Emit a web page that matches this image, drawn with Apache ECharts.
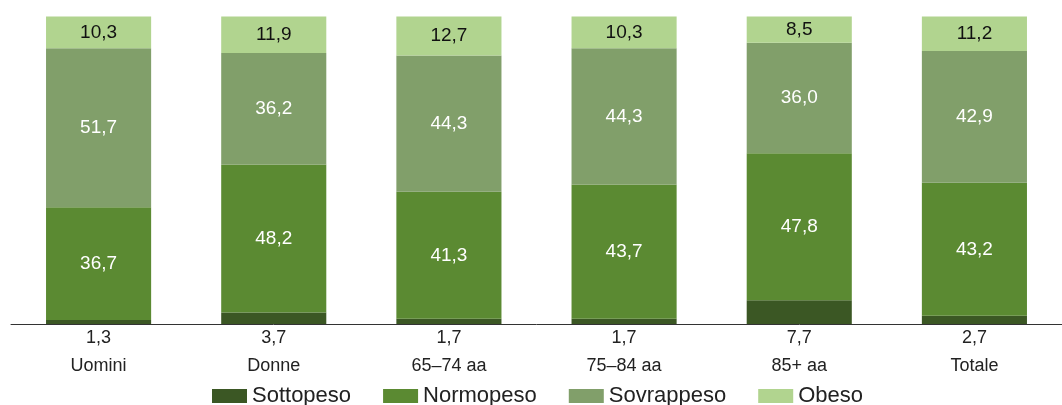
<!DOCTYPE html>
<html>
<head>
<meta charset="utf-8">
<script src="https://cdn.jsdelivr.net/npm/echarts@6/dist/echarts.min.js"></script>
<style>
html,body{margin:0;padding:0;background:#fff;}
#chart{width:1062px;height:405px;}
</style>
</head>
<body>
<div id="chart"></div>
<script>
var categories = ['Uomini', 'Donne', '65\u201374 aa', '75\u201384 aa', '85+ aa', 'Totale'];
var sottopeso = [1.3, 3.7, 1.7, 1.7, 7.7, 2.7];
var normopeso = [36.7, 48.2, 41.3, 43.7, 47.8, 43.2];
var sovrappeso = [51.7, 36.2, 44.3, 44.3, 36.0, 42.9];
var obeso = [10.3, 11.9, 12.7, 10.3, 8.5, 11.2];
var seriesNames = ['Sottopeso', 'Normopeso', 'Sovrappeso', 'Obeso'];

function fmt(v) { return v.toFixed(1).replace('.', ','); }

var colors = ['#3b5724', '#5b8a32', '#819f6a', '#b1d48f'];
var FONT = 'Liberation Sans, Arial, sans-serif';

function mkSeries(name, data, color, labelColor) {
  return {
    name: name,
    type: 'bar',
    stack: 'total',
    barWidth: '60%',
    data: data,
    itemStyle: { color: color },
    label: labelColor ? {
      show: true,
      position: 'inside',
      color: labelColor,
      fontFamily: FONT,
      fontSize: 19,
      formatter: function (p) { return fmt(p.value); }
    } : { show: false },
    emphasis: { disabled: true }
  };
}

var chart = echarts.init(document.getElementById('chart'));
chart.setOption({
  animation: false,
  color: colors,
  grid: { left: 11, width: 1055, top: 16.5, bottom: 81, containLabel: false },
  legend: {
    left: 207,
    top: 380,
    itemWidth: 35,
    itemHeight: 14,
    itemGap: 32,
    icon: 'rect',
    textStyle: { fontFamily: FONT, fontSize: 22, color: '#222', padding: [0, 0, 0, 0] },
    data: seriesNames
  },
  xAxis: {
    type: 'category',
    data: categories,
    axisLine: { show: true, lineStyle: { color: '#333', width: 1 } },
    axisTick: { show: false },
    axisLabel: {
      margin: 0,
      interval: 0,
      fontFamily: FONT,
      fontSize: 18,
      lineHeight: 28,
      color: '#222',
      formatter: function (v, i) { return fmt(sottopeso[i]) + '\n' + v; }
    }
  },
  yAxis: {
    type: 'value',
    min: 0,
    max: 100,
    show: false
  },
  series: [
    mkSeries(seriesNames[0], sottopeso, colors[0], null),
    mkSeries(seriesNames[1], normopeso, colors[1], '#fff'),
    mkSeries(seriesNames[2], sovrappeso, colors[2], '#fff'),
    mkSeries(seriesNames[3], obeso, colors[3], '#111')
  ]
});
</script>
</body>
</html>
